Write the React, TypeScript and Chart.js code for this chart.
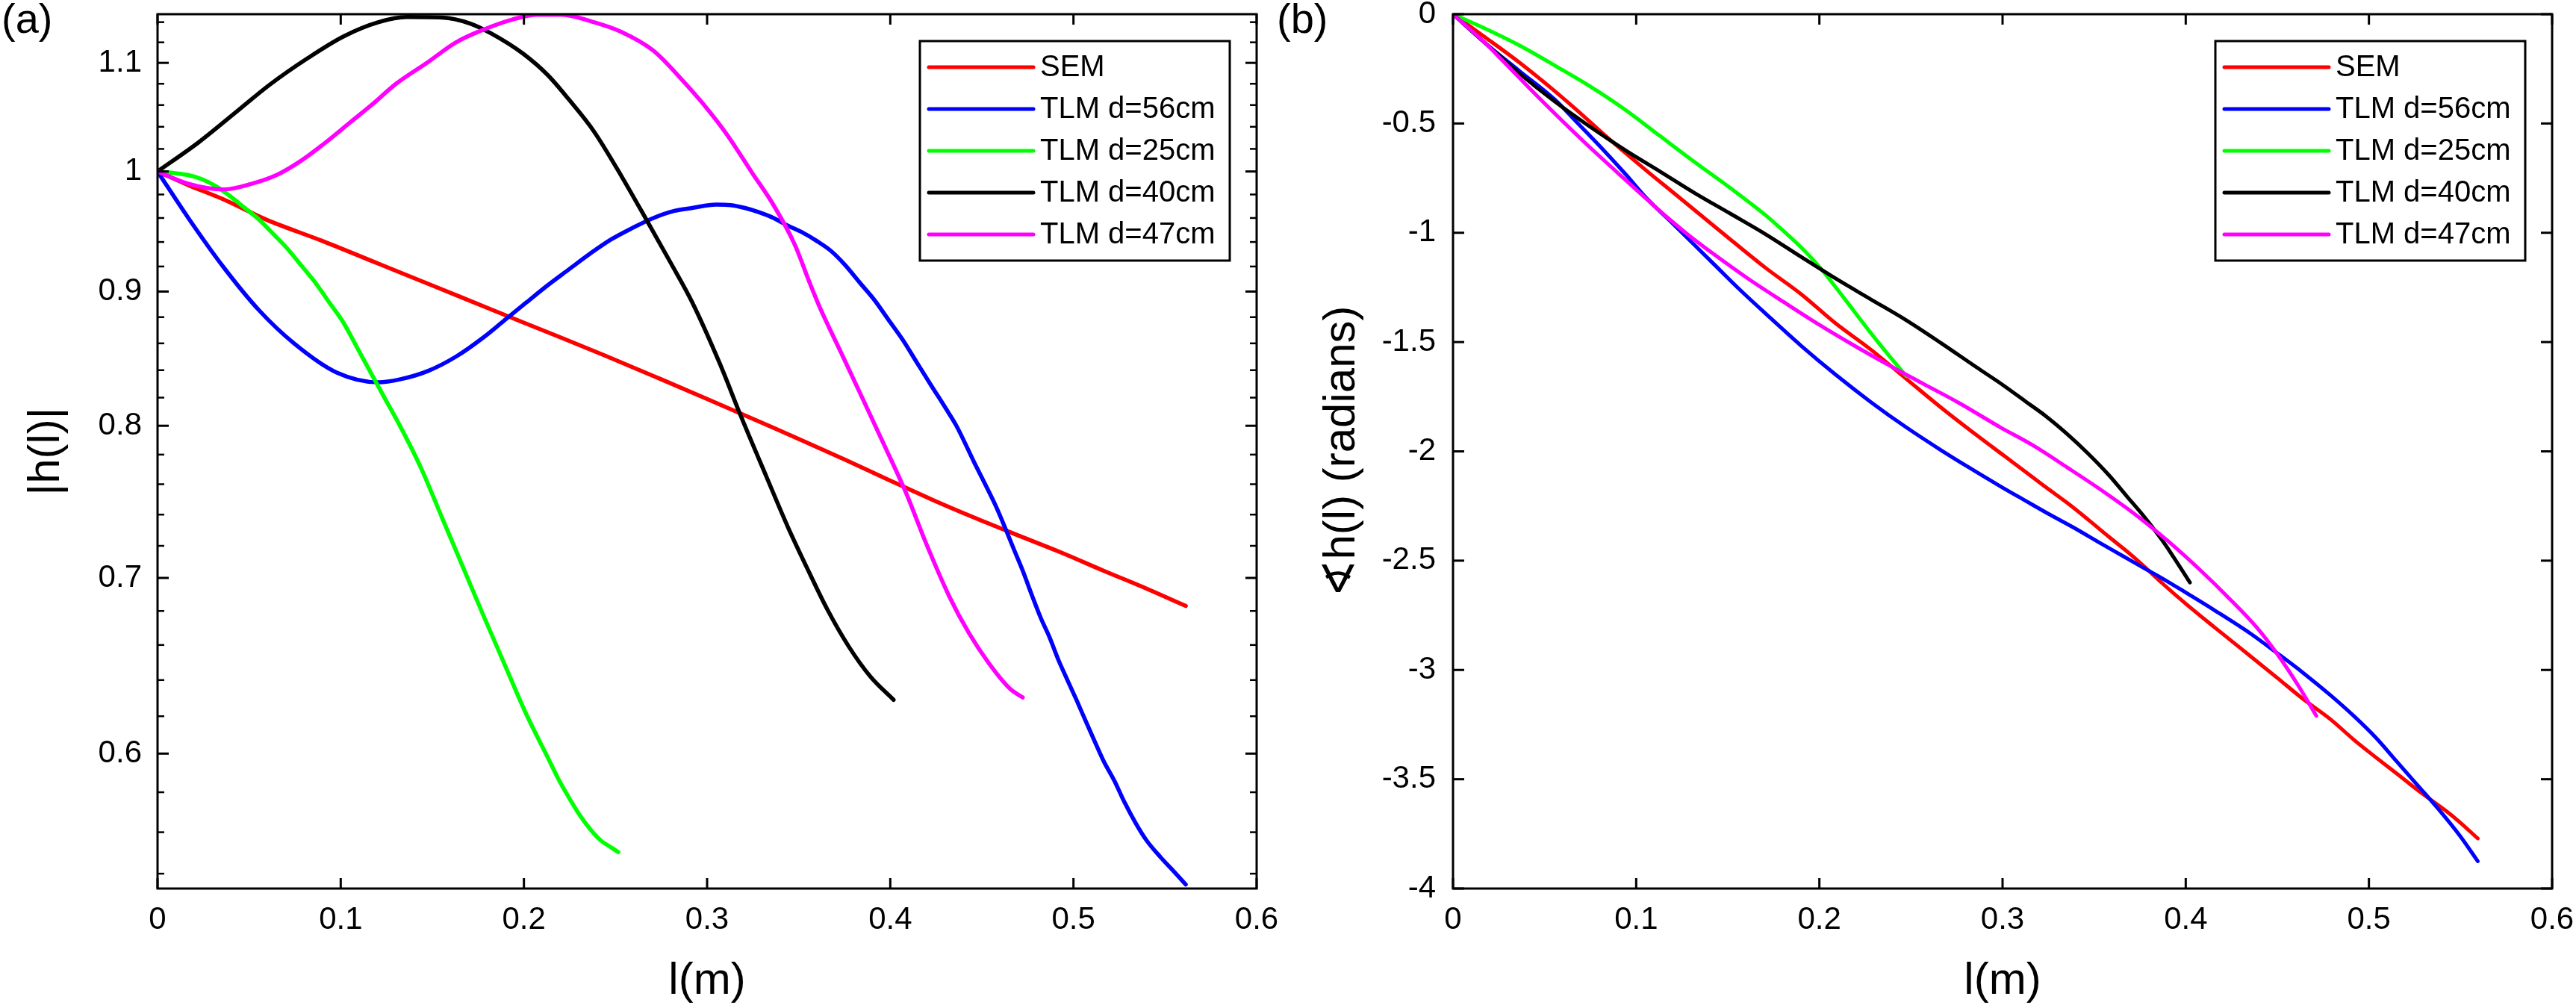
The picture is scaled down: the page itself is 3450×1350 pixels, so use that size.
import React, { useEffect, useRef } from 'react';
import { Chart, registerables } from 'chart.js';

Chart.register(...registerables);

const FONT = "'Liberation Sans', Arial, Helvetica, sans-serif";

// Shared axis ticks
const xTicks = [0, 0.1, 0.2, 0.3, 0.4, 0.5, 0.6];
const magTicks = [0.6, 0.7, 0.8, 0.9, 1, 1.1];
const magMinorTicks = [
  0.54, 0.56, 0.58, 0.62, 0.64, 0.66, 0.68, 0.72, 0.74, 0.76, 0.78, 0.82, 0.84, 0.86, 0.88,
  0.92, 0.94, 0.96, 0.98, 1.02, 1.04, 1.06, 1.08, 1.12, 1.14,
];
const phaseTicks = [0, -0.5, -1, -1.5, -2, -2.5, -3, -3.5, -4];

const seriesLabels = ['SEM', 'TLM d=56cm', 'TLM d=25cm', 'TLM d=40cm', 'TLM d=47cm'];
const seriesColors = ['#ff0000', '#0000ff', '#00ff00', '#000000', '#ff00ff'];

// ---- (a) magnitude |h(l)| ----
const magSemX = [0, 0.0168, 0.036, 0.0591, 0.0899, 0.1207, 0.1514, 0.1822, 0.213, 0.2438, 0.2746, 0.2992, 0.3363, 0.3549, 0.3754, 0.3989, 0.4224, 0.4459, 0.4694, 0.4928, 0.5163, 0.5398, 0.5613];
const magSemY = [1.0, 0.9881, 0.9758, 0.9588, 0.9409, 0.9222, 0.904, 0.8859, 0.8684, 0.8511, 0.8335, 0.8195, 0.7985, 0.788, 0.7765, 0.763, 0.75, 0.738, 0.7268, 0.716, 0.7045, 0.6935, 0.683];

const mag56X = [0, 0.0168, 0.036, 0.0553, 0.0745, 0.0976, 0.1207, 0.1322, 0.1476, 0.163, 0.1784, 0.1899, 0.2014, 0.213, 0.2245, 0.2361, 0.2476, 0.2592, 0.2707, 0.2822, 0.2919, 0.305, 0.3128, 0.3206, 0.3285, 0.3363, 0.3441, 0.3519, 0.3598, 0.3676, 0.3754, 0.3832, 0.3911, 0.3989, 0.4067, 0.4145, 0.4224, 0.4302, 0.4361, 0.4459, 0.4518, 0.4576, 0.4625, 0.4674, 0.4723, 0.4772, 0.4821, 0.487, 0.4919, 0.4968, 0.5017, 0.5065, 0.5114, 0.5163, 0.5222, 0.5281, 0.5339, 0.5398, 0.5476, 0.5535, 0.5613];
const mag56Y = [1.0, 0.96, 0.9195, 0.8855, 0.86, 0.8384, 0.8311, 0.8332, 0.8394, 0.8501, 0.865, 0.8782, 0.8915, 0.905, 0.9176, 0.9304, 0.9421, 0.9516, 0.96, 0.966, 0.9685, 0.9714, 0.9709, 0.9685, 0.9648, 0.96, 0.9535, 0.948, 0.9409, 0.9327, 0.9211, 0.9073, 0.8938, 0.8782, 0.8629, 0.8457, 0.8287, 0.8125, 0.8, 0.7745, 0.76, 0.7456, 0.732, 0.718, 0.7045, 0.6898, 0.676, 0.6643, 0.6511, 0.6398, 0.6288, 0.6178, 0.6069, 0.5964, 0.5861, 0.5745, 0.5646, 0.5561, 0.5478, 0.5423, 0.5349];

const mag25X = [0, 0.0091, 0.0168, 0.0245, 0.0322, 0.0399, 0.0476, 0.0553, 0.063, 0.0706, 0.0783, 0.086, 0.0937, 0.1014, 0.1091, 0.1168, 0.1245, 0.1322, 0.1438, 0.1553, 0.1668, 0.1784, 0.1899, 0.2014, 0.213, 0.2188, 0.2245, 0.2303, 0.2361, 0.2418, 0.2476, 0.2515];
const mag25Y = [1.0, 0.9986, 0.9968, 0.9931, 0.9868, 0.9782, 0.9685, 0.9588, 0.9469, 0.935, 0.9211, 0.9073, 0.8915, 0.876, 0.8564, 0.8372, 0.8185, 0.8003, 0.771, 0.738, 0.7065, 0.676, 0.6478, 0.6209, 0.598, 0.5868, 0.5774, 0.5687, 0.5616, 0.5561, 0.5526, 0.5503];

const mag40X = [0, 0.0225, 0.0437, 0.061, 0.0822, 0.1014, 0.1207, 0.136, 0.1553, 0.1707, 0.1822, 0.1995, 0.213, 0.2245, 0.238, 0.2534, 0.2669, 0.2803, 0.2919, 0.3069, 0.3187, 0.3324, 0.3441, 0.3559, 0.3656, 0.3774, 0.3891, 0.4018];
const mag40Y = [1.0, 1.026, 1.0547, 1.0788, 1.1048, 1.1257, 1.14, 1.1451, 1.1446, 1.1386, 1.1287, 1.109, 1.0883, 1.0653, 1.0363, 0.9955, 0.9585, 0.9225, 0.8915, 0.845, 0.806, 0.765, 0.732, 0.703, 0.681, 0.659, 0.642, 0.629];

const mag47X = [0, 0.0168, 0.036, 0.0514, 0.0649, 0.0783, 0.0899, 0.1053, 0.1168, 0.1303, 0.1476, 0.163, 0.1784, 0.1938, 0.2072, 0.2207, 0.238, 0.2534, 0.2707, 0.2861, 0.2974, 0.3108, 0.3245, 0.3363, 0.348, 0.3559, 0.3617, 0.3735, 0.3852, 0.3969, 0.4087, 0.4194, 0.4321, 0.4429, 0.4537, 0.4654, 0.4723];
const mag47Y = [1.0, 0.9893, 0.9844, 0.9893, 0.9968, 1.0094, 1.0234, 1.0442, 1.06, 1.0801, 1.1007, 1.1201, 1.1329, 1.1427, 1.1475, 1.1475, 1.14, 1.1301, 1.1118, 1.0842, 1.062, 1.033, 0.999, 0.9709, 0.9374, 0.9073, 0.887, 0.852, 0.8185, 0.786, 0.754, 0.722, 0.689, 0.667, 0.6497, 0.6351, 0.6303];

// ---- (b) phase of h(l), radians ----
const phSemX = [0, 0.0173, 0.0364, 0.0556, 0.0671, 0.0844, 0.1055, 0.1208, 0.1477, 0.1707, 0.1898, 0.209, 0.2282, 0.2474, 0.2665, 0.2857, 0.3008, 0.3123, 0.3238, 0.3352, 0.3467, 0.3582, 0.3697, 0.3774, 0.387, 0.4004, 0.4157, 0.4349, 0.4502, 0.4636, 0.4789, 0.4923, 0.5038, 0.5153, 0.5287, 0.5421, 0.5498, 0.5594];
const phSemY = [0, -0.104, -0.222, -0.352, -0.435, -0.565, -0.715, -0.82, -1.005, -1.161, -1.279, -1.415, -1.535, -1.668, -1.8, -1.925, -2.02, -2.092, -2.165, -2.235, -2.312, -2.392, -2.47, -2.527, -2.602, -2.7, -2.805, -2.934, -3.038, -3.13, -3.225, -3.323, -3.4, -3.475, -3.563, -3.645, -3.698, -3.771];

const ph56X = [0, 0.0173, 0.0364, 0.0556, 0.0671, 0.0786, 0.094, 0.1055, 0.1208, 0.1323, 0.1438, 0.1553, 0.1707, 0.1898, 0.209, 0.2282, 0.2474, 0.2665, 0.2819, 0.2988, 0.3123, 0.3238, 0.3391, 0.3544, 0.3659, 0.3774, 0.387, 0.4004, 0.4157, 0.4349, 0.4502, 0.4636, 0.4789, 0.4923, 0.5038, 0.5153, 0.5268, 0.5383, 0.5498, 0.5594];
const ph56Y = [0, -0.13, -0.261, -0.391, -0.49, -0.59, -0.73, -0.84, -0.965, -1.06, -1.155, -1.25, -1.37, -1.515, -1.65, -1.775, -1.89, -1.995, -2.075, -2.16, -2.225, -2.28, -2.35, -2.425, -2.48, -2.535, -2.58, -2.648, -2.727, -2.831, -2.925, -3.01, -3.115, -3.215, -3.31, -3.42, -3.53, -3.64, -3.76, -3.875];

const ph25X = [0, 0.0173, 0.0364, 0.0556, 0.0748, 0.094, 0.1131, 0.1323, 0.1515, 0.1707, 0.1802, 0.1898, 0.1994, 0.209, 0.2186, 0.2282, 0.2378, 0.2474];
const ph25Y = [0, -0.065, -0.1435, -0.235, -0.33, -0.437, -0.558, -0.679, -0.796, -0.92, -0.99, -1.065, -1.15, -1.25, -1.355, -1.46, -1.56, -1.655];

const ph40X = [0, 0.0173, 0.0364, 0.0556, 0.0748, 0.094, 0.1131, 0.1323, 0.1515, 0.1707, 0.1898, 0.209, 0.2282, 0.2474, 0.2665, 0.2857, 0.3008, 0.3123, 0.3238, 0.3352, 0.3467, 0.3582, 0.3678, 0.3774, 0.387, 0.3946, 0.4023];
const ph40Y = [0, -0.13, -0.272, -0.4, -0.515, -0.622, -0.72, -0.82, -0.913, -1.007, -1.109, -1.21, -1.305, -1.4, -1.505, -1.615, -1.7, -1.77, -1.84, -1.92, -2.01, -2.11, -2.205, -2.3, -2.405, -2.5, -2.6];

const ph47X = [0, 0.0173, 0.0268, 0.046, 0.071, 0.094, 0.117, 0.1285, 0.1419, 0.1611, 0.1802, 0.1994, 0.2186, 0.2378, 0.257, 0.2761, 0.2988, 0.3161, 0.3352, 0.3544, 0.3736, 0.3908, 0.408, 0.4234, 0.4387, 0.4502, 0.4617, 0.4713];
const ph47Y = [0, -0.13, -0.21, -0.375, -0.58, -0.757, -0.93, -1.01, -1.095, -1.21, -1.315, -1.418, -1.514, -1.605, -1.692, -1.778, -1.89, -1.97, -2.073, -2.18, -2.296, -2.414, -2.544, -2.67, -2.805, -2.93, -3.075, -3.21];

type Series = { xs: number[]; ys: number[] };

const magSeries: Series[] = [
  { xs: magSemX, ys: magSemY },
  { xs: mag56X, ys: mag56Y },
  { xs: mag25X, ys: mag25Y },
  { xs: mag40X, ys: mag40Y },
  { xs: mag47X, ys: mag47Y },
];
const phaseSeries: Series[] = [
  { xs: phSemX, ys: phSemY },
  { xs: ph56X, ys: ph56Y },
  { xs: ph25X, ys: ph25Y },
  { xs: ph40X, ys: ph40Y },
  { xs: ph47X, ys: ph47Y },
];

function buildDatasets(series: Series[], width: number) {
  return series.map((s, i) => ({
    label: seriesLabels[i],
    data: s.xs.map((x, k) => ({ x, y: s.ys[k] })),
    borderColor: seriesColors[i],
    backgroundColor: seriesColors[i],
    borderWidth: width,
    pointRadius: 0,
    fill: false,
    cubicInterpolationMode: 'monotone',
    borderCapStyle: 'round',
    borderJoinStyle: 'round',
    // later series are painted on top
    order: series.length - i,
  }));
}

// Boxed axes with inward ticks, an in-plot legend and the panel tag
const framePlugin = {
  id: 'frame',
  afterDraw(chart: any, _args: any, opts: any) {
    const { ctx } = chart;
    const { left, right, top, bottom } = chart.chartArea;
    const xs = chart.scales.x;
    const ys = chart.scales.y;
    const seg = (x1: number, y1: number, x2: number, y2: number) => {
      ctx.beginPath();
      ctx.moveTo(x1, y1);
      ctx.lineTo(x2, y2);
      ctx.stroke();
    };
    ctx.save();
    ctx.strokeStyle = '#000';
    ctx.lineCap = 'butt';
    ctx.lineWidth = 3;
    for (const v of opts.xTicks) {
      const px = xs.getPixelForValue(v);
      seg(px, bottom, px, bottom - 14);
      seg(px, top, px, top + 14);
    }
    for (const v of opts.yTicks) {
      const py = ys.getPixelForValue(v);
      seg(left, py, left + 15, py);
      seg(right, py, right - 15, py);
    }
    ctx.lineWidth = 2.5;
    for (const v of opts.yMinor || []) {
      const py = ys.getPixelForValue(v);
      seg(left, py, left + 9, py);
      seg(right, py, right - 9, py);
    }
    ctx.lineWidth = 3;
    ctx.strokeRect(left, top, right - left, bottom - top);

    // legend
    const lw = 415;
    const lh = 294;
    const bx = right - 36 - lw;
    const by = top + 36;
    ctx.fillStyle = '#fff';
    ctx.fillRect(bx, by, lw, lh);
    ctx.strokeStyle = '#000';
    ctx.lineWidth = 3;
    ctx.strokeRect(bx, by, lw, lh);
    ctx.font = `40px ${FONT}`;
    ctx.textBaseline = 'middle';
    ctx.textAlign = 'left';
    chart.data.datasets.forEach((ds: any, i: number) => {
      const cy = by + 35 + i * 56;
      ctx.strokeStyle = ds.borderColor;
      ctx.lineWidth = 5;
      ctx.lineCap = 'round';
      seg(bx + 12, cy, bx + 152, cy);
      ctx.fillStyle = '#000';
      ctx.fillText(ds.label, bx + 161, cy + 1);
    });

    // panel tag
    ctx.fillStyle = '#000';
    ctx.font = `56px ${FONT}`;
    ctx.textBaseline = 'alphabetic';
    ctx.textAlign = 'left';
    ctx.fillText(opts.tag, opts.tagX, 44);
    ctx.restore();
  },
};

function makeConfig(p: {
  series: Series[];
  lineWidth: number;
  yType: 'linear' | 'logarithmic';
  yMin: number;
  yMax: number;
  yTicks: number[];
  yMinor?: number[];
  yTitle: string;
  yAxisWidth: number;
  yTitlePad: number;
  yLabelPad: number;
  padRight: number;
  tag: string;
  tagX: number;
}) {
  const tickFont = { family: FONT, size: 42, lineHeight: 1 };
  const titleFont = { family: FONT, size: 60, lineHeight: 1 };
  return {
    type: 'line',
    data: { datasets: buildDatasets(p.series, p.lineWidth) },
    options: {
      animation: false,
      responsive: false,
      devicePixelRatio: 1,
      layout: { padding: { left: 0, right: p.padRight, top: 19, bottom: 0 } },
      plugins: {
        legend: { display: false },
        tooltip: { enabled: false },
        frame: { xTicks, yTicks: p.yTicks, yMinor: p.yMinor, tag: p.tag, tagX: p.tagX },
      },
      scales: {
        x: {
          type: 'linear',
          bounds: 'data',
          min: 0,
          max: 0.6,
          grid: { display: false, drawTicks: false },
          border: { display: false },
          afterBuildTicks: (s: any) => {
            s.ticks = xTicks.map((v) => ({ value: v }));
          },
          afterFit: (s: any) => {
            s.height = 160;
            s.paddingLeft = 0;
            s.paddingRight = 0;
          },
          ticks: {
            font: tickFont,
            color: '#000',
            padding: 21,
            maxRotation: 0,
            autoSkip: false,
            callback: (v: any) => String(v),
          },
          title: {
            display: true,
            text: 'l(m)',
            font: titleFont,
            color: '#000',
            padding: { top: 0, bottom: 6 },
          },
        },
        y: {
          type: p.yType,
          bounds: 'data',
          min: p.yMin,
          max: p.yMax,
          grid: { display: false, drawTicks: false },
          border: { display: false },
          afterBuildTicks: (s: any) => {
            s.ticks = p.yTicks.map((v) => ({ value: v }));
          },
          afterFit: (s: any) => {
            s.width = p.yAxisWidth;
            s.paddingTop = 0;
            s.paddingBottom = 0;
          },
          ticks: {
            font: tickFont,
            color: '#000',
            padding: p.yLabelPad,
            autoSkip: false,
            callback: (v: any) => String(v),
          },
          title: {
            display: true,
            text: p.yTitle,
            font: titleFont,
            color: '#000',
            padding: { top: p.yTitlePad, bottom: 0 },
          },
        },
      },
    },
    plugins: [framePlugin],
  };
}

const CANVAS_W = 1760;
const CANVAS_H = 1350;

export default function App() {
  const magRef = useRef<HTMLCanvasElement | null>(null);
  const phaseRef = useRef<HTMLCanvasElement | null>(null);

  useEffect(() => {
    if (!magRef.current || !phaseRef.current) return;
    const magChart = new Chart(
      magRef.current,
      makeConfig({
        series: magSeries,
        lineWidth: 5.5,
        yType: 'logarithmic',
        yMin: 0.533,
        yMax: 1.148,
        yTicks: magTicks,
        yMinor: magMinorTicks,
        yTitle: '|h(l)|',
        yAxisWidth: 211,
        yTitlePad: 32,
        yLabelPad: 21,
        padRight: 77,
        tag: '(a)',
        tagX: 2,
      }) as any
    );
    const phaseChart = new Chart(
      phaseRef.current,
      makeConfig({
        series: phaseSeries,
        lineWidth: 5,
        yType: 'linear',
        yMin: -4,
        yMax: 0,
        yTicks: phaseTicks,
        yTitle: '\u2222h(l) (radians)',
        yAxisWidth: 256,
        yTitlePad: 77,
        yLabelPad: 23,
        padRight: 32,
        tag: '(b)',
        tagX: 20,
      }) as any
    );
    return () => {
      magChart.destroy();
      phaseChart.destroy();
    };
  }, []);

  return (
    <div
      style={{
        position: 'absolute',
        left: 0,
        top: 0,
        width: 3450,
        height: CANVAS_H,
        background: '#fff',
        overflow: 'hidden',
      }}
    >
      <canvas
        ref={magRef}
        width={CANVAS_W}
        height={CANVAS_H}
        style={{ position: 'absolute', left: 0, top: 0, width: CANVAS_W, height: CANVAS_H }}
      />
      <canvas
        ref={phaseRef}
        width={CANVAS_W}
        height={CANVAS_H}
        style={{ position: 'absolute', left: 1690, top: 0, width: CANVAS_W, height: CANVAS_H }}
      />
    </div>
  );
}
